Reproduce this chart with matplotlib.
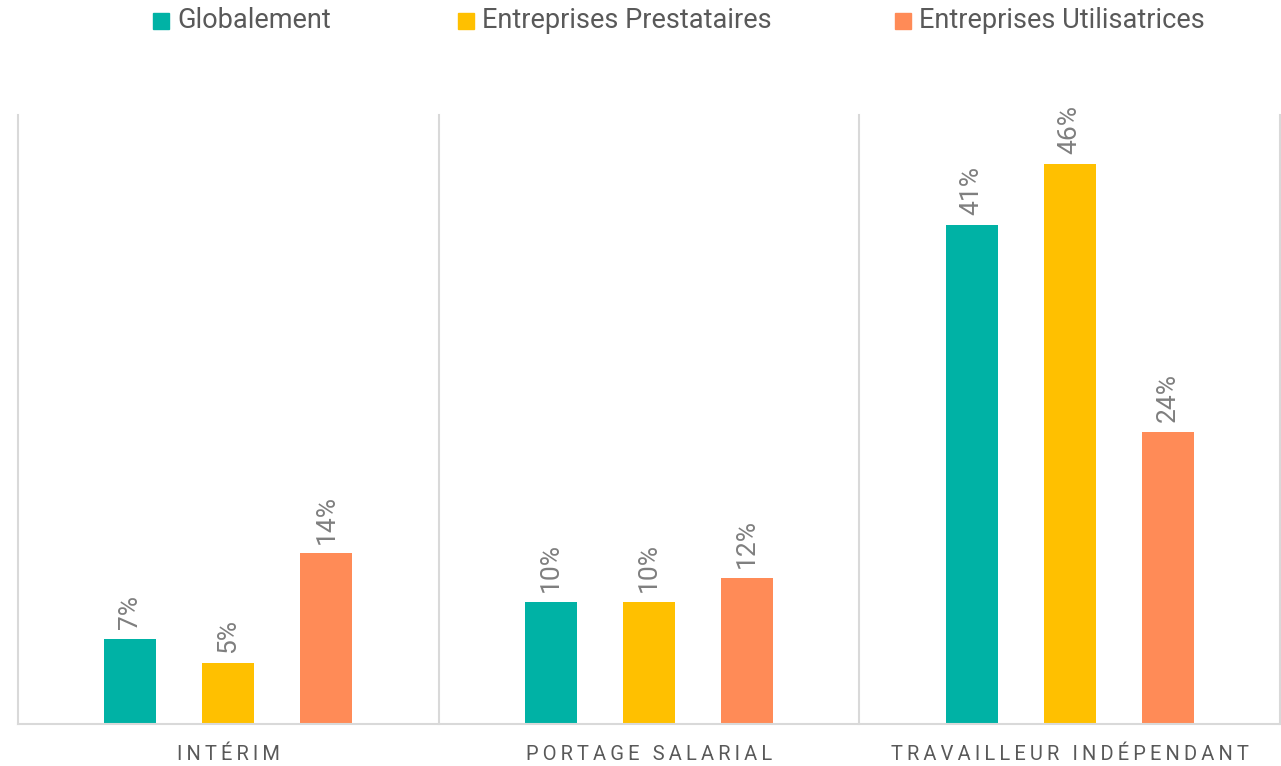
import numpy as np
import matplotlib.pyplot as plt
from matplotlib.patches import Rectangle

# data
categories = ['INTÉRIM', 'PORTAGE SALARIAL', 'TRAVAILLEUR INDÉPENDANT']
series = ['Globalement', 'Entreprises Prestataires', 'Entreprises Utilisatrices']
globalement = [7, 10, 41]
prestataires = [5, 10, 46]
utilisatrices = [14, 12, 24]
colors = ['#00B2A5', '#FFC000', '#FF8B57']

plt.rcParams['font.family'] = ['Roboto', 'DejaVu Sans']

fig = plt.figure(figsize=(12.81, 7.66), dpi=100)
ax = fig.add_axes([18 / 1281, 42 / 766, 1262 / 1281, 609 / 766])

x = np.arange(len(categories))
width = 0.124
offset = 0.233
for i, (vals, name) in enumerate(zip([globalement, prestataires, utilisatrices], series)):
    pos = x + (i - 1) * offset
    ax.bar(pos, vals, width, color=colors[i], label=name)
    for xp, v in zip(pos, vals):
        ax.annotate(f'{v}%', (xp, v), xytext=(0, 7), textcoords='offset points',
                    rotation=90, ha='center', va='bottom', fontsize=19, color='#7F7F7F')

ax.set_xlim(-0.5, 2.5)
ax.set_ylim(0, 50)
ax.set_yticks([])
ax.set_xticks(x)
ax.set_xticklabels(['\u2009'.join(c) for c in categories], fontsize=14.5, color='#595959')
ax.tick_params(axis='x', length=0, pad=15)
for s in ['top', 'right', 'left']:
    ax.spines[s].set_visible(False)
ax.spines['bottom'].set_color('#D9D9D9')
ax.spines['bottom'].set_linewidth(1.5)
for b in [-0.5, 0.5, 1.5, 2.5]:
    ax.axvline(b, color='#D9D9D9', linewidth=1.5, clip_on=False)

# legend placed by hand to follow the original spacing
W, H = 1281, 766
leg_x = [153, 458, 895]
for lx, name, c in zip(leg_x, series, colors):
    fig.patches.append(Rectangle((lx / W, 1 - 29 / H), 16 / W, 16 / H,
                                 transform=fig.transFigure, color=c))
    fig.text((lx + 24) / W, 1 - 21 / H, name, fontsize=19.5, color='#595959',
             ha='left', va='center')

fig.savefig('out.png', dpi=100)
